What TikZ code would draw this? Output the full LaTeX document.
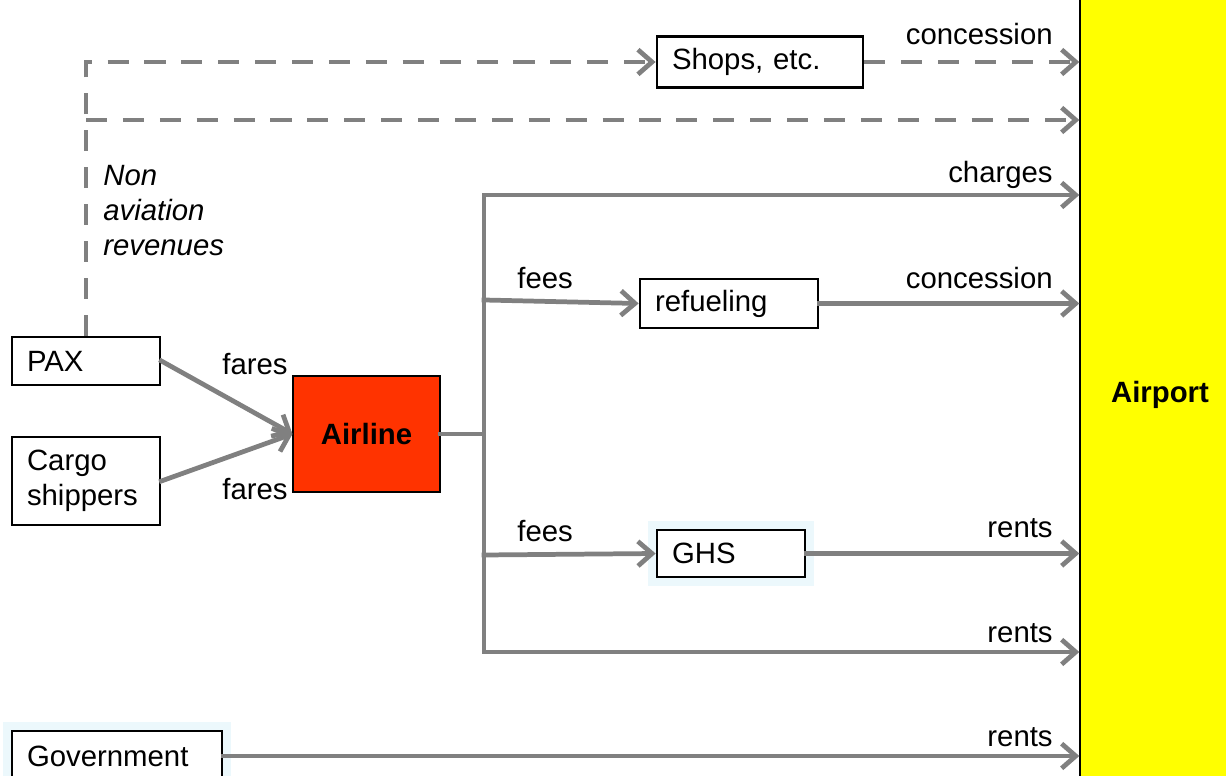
\documentclass[tikz,border=0pt]{standalone}
\usepackage{fontspec}
\setmainfont{Liberation Sans}
\usetikzlibrary{arrows.meta}
\definecolor{flowgray}{RGB}{128,128,128}
\definecolor{airlinered}{RGB}{255,51,0}
\definecolor{airportyellow}{RGB}{255,255,0}
\definecolor{glowblue}{RGB}{236,248,252}

\begin{document}
\fontsize{16.7}{20}\selectfont
\begin{tikzpicture}[x=0.02cm, y=-0.02cm,
  line/.style={draw=flowgray, line width=2.7pt, line cap=rect},
  flow/.style={line, -{Straight Barb[length=8pt, width=14pt]}},
  nonav/.style={flow, dash pattern=on 12pt off 9pt, line cap=butt},
  box/.style={draw, line width=1.6pt, fill=white, inner xsep=0.3cm, align=left,
    text width=#1, minimum height=0.96cm},
  glow/.style={preaction={draw=glowblue, line width=10pt}},
  lbl/.style={inner sep=0pt}]
  \clip (0,0) rectangle (1226,776);

  % airport and airline
  \node[draw, fill=airportyellow, line width=0.8pt, minimum width=3.2cm, minimum height=17cm] (airport) at (1160,395) {\bfseries Airport};
  \node[draw, fill=airlinered, line width=0.6pt, minimum width=2.94cm, minimum height=2.32cm] (airline) at (366.5,434) {\bfseries Airline};

  % boxes
  \node[box=2.36cm] (pax) at (86,361) {PAX};
  \node[box=2.36cm, minimum height=1.76cm] (cargo) at (86,481) {Cargo\\shippers};
  \node[box=3.52cm, minimum height=1.02cm] (shops) at (760,62) {Shops, etc.};
  \node[box=2.96cm, minimum height=0.98cm] (refuel) at (729,303.5) {refueling};
  \node[box=2.36cm, minimum height=0.94cm, glow] (ghs) at (731,553.5) {GHS};
  \node[box=3.6cm, minimum height=1.0cm, glow] (gov) at (117,756) {Government};

  % fares
  \draw[flow] (pax.east) -- (airline.west);
  \draw[flow] (cargo.east) -- (airline.west);
  \node[lbl, anchor=base west] (fares-pax) at (222,375) {fares};
  \node[lbl, anchor=base west] (fares-cargo) at (222,499) {fares};

  % airline payments
  \coordinate (split) at (airline.east -| 484,0);
  \coordinate (t-top) at (484,195);
  \coordinate (t-fuel) at (484,300);
  \coordinate (t-ghs) at (484,555);
  \coordinate (t-bot) at (484,652);
  \draw[line] (airline.east) -- (split);
  \draw[line] (t-top) -- (t-bot);
  \draw[flow] (t-top) -- (t-top -| airport.west);
  \draw[flow] (t-fuel) -- (refuel.west);
  \draw[flow] (refuel.east) -- (refuel.east -| airport.west);
  \draw[flow] (t-ghs) -- (ghs.west);
  \draw[flow] (ghs.east) -- (ghs.east -| airport.west);
  \draw[flow] (t-bot) -- (t-bot -| airport.west);
  \draw[flow] (gov.east) -- (gov.east -| airport.west);
  \node[lbl, anchor=base west] (fees-fuel) at (517,289) {fees};
  \node[lbl, anchor=base west] (fees-ghs) at (517,541) {fees};

  % non aviation revenues
  \coordinate (nar-mid) at (pax.north |- 0,120);
  \draw[nonav] (pax.north) |- (shops.west);
  \draw[nonav] (nar-mid) -- (nar-mid -| airport.west);
  \draw[nonav] (shops.east) -- (shops.east -| airport.west);
  \node[lbl, anchor=north west, align=left, font=\itshape] (nar) at (103,165) {Non\\aviation\\revenues};

  % labels at the airport
  \foreach \n/\y/\t in {con-shops/45/concession, charges/183/charges, con-fuel/289/concession,
      rent-ghs/537/rents, rent-air/642/rents, rent-gov/746/rents}{
    \node[lbl, anchor=base east] (\n) at (1053,\y) {\t};
  }
\end{tikzpicture}
\end{document}
